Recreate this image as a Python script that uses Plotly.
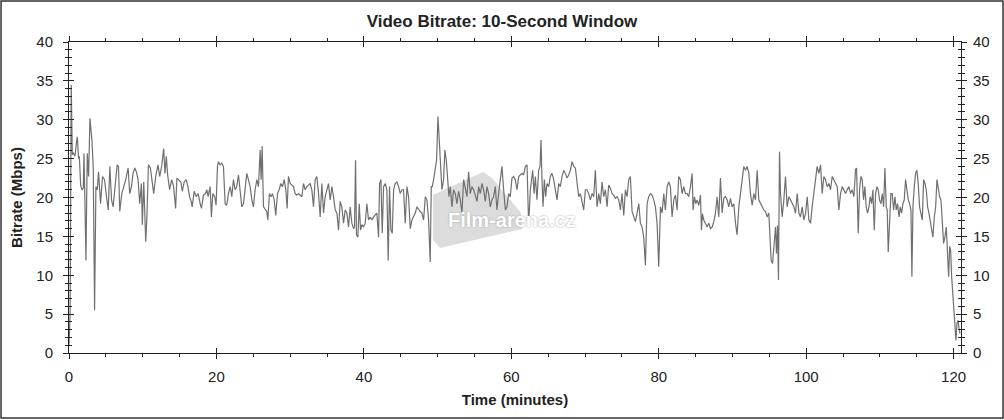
import plotly.graph_objects as go

# ---- data: time (minutes) / bitrate (Mbps), in six parts ----
minutes_1 = [0.0, 0.15, 0.3, 0.45, 0.59, 0.81, 1.0, 1.13, 1.3, 1.4,
             1.58, 1.75, 1.94, 2.03, 2.15, 2.3, 2.4, 2.48, 2.66, 2.84,
             2.95, 3.11, 3.29, 3.47, 3.65, 3.83, 4.01, 4.28, 4.55, 4.82,
             5.09, 5.32, 5.54, 5.77, 5.99, 6.22, 6.53, 6.71, 6.89, 7.16,
             7.43, 7.7, 8.02, 8.24, 8.47, 8.69, 8.92, 9.14, 9.37, 9.59,
             9.82, 9.95, 10.14, 10.32, 10.41, 10.59, 10.77, 11.04, 11.22, 11.49,
             11.76, 12.07, 12.3, 12.57, 12.84, 13.02, 13.2, 13.38, 13.65, 13.92,
             14.19, 14.46, 14.64, 14.91, 15.18, 15.36, 15.63, 15.9, 16.13, 16.35,
             16.58, 16.71, 16.98, 17.25, 17.52, 17.79, 17.97, 18.24, 18.51, 18.69,
             18.87, 19.14, 19.32, 19.5, 19.77, 19.95, 20.14]
mbps_1 = [1.0, 5.0, 34.5, 25.5, 25.7, 25.3, 27.0, 27.8, 25.0, 25.3,
          21.6, 21.0, 21.2, 25.7, 20.0, 11.9, 20.0, 25.7, 22.7, 30.2,
          29.0, 27.4, 23.8, 5.5, 21.4, 21.0, 23.3, 19.2, 22.7, 22.3,
          20.1, 18.4, 24.0, 19.7, 18.8, 21.0, 24.2, 24.0, 18.2, 20.5,
          21.4, 22.3, 23.8, 20.5, 21.4, 23.1, 23.8, 23.3, 22.3, 19.2,
          21.8, 16.5, 22.0, 16.2, 14.3, 18.0, 24.2, 23.8, 22.3, 20.5,
          22.7, 24.2, 22.7, 24.0, 26.3, 23.1, 25.3, 22.9, 21.0, 22.3,
          21.4, 18.6, 22.5, 22.3, 22.0, 20.8, 22.0, 22.3, 21.4, 20.1,
          19.5, 18.8, 20.8, 20.1, 20.5, 19.2, 18.6, 20.3, 20.5, 21.0,
          20.1, 21.4, 17.5, 20.5, 20.1, 19.0, 24.0]

minutes_2 = [20.27, 20.5, 20.72, 20.95, 21.18, 21.4, 21.63, 21.86, 22.08, 22.31,
             22.53, 22.76, 22.99, 23.21, 23.44, 23.67, 23.89, 24.12, 24.34, 24.57,
             24.8, 25.02, 25.25, 25.48, 25.7, 25.93, 26.06, 26.2, 26.38, 26.61,
             26.83, 26.97, 27.19, 27.42, 27.6, 27.83, 28.05, 28.28, 28.51, 28.73,
             28.96, 29.19, 29.41, 29.59, 29.77, 30.0, 30.23, 30.45, 30.68, 30.9,
             31.13, 31.36, 31.58, 31.81, 32.04, 32.26, 32.49, 32.71, 32.94, 33.17,
             33.39, 33.62, 33.85, 34.07, 34.3, 34.53, 34.75, 34.98, 35.2, 35.43,
             35.66, 35.88, 36.11, 36.34, 36.56, 36.79, 37.01, 37.24, 37.47, 37.69,
             37.92, 38.14, 38.37, 38.6, 38.73, 38.87, 39.0, 39.19, 39.37, 39.55,
             39.73, 39.95, 40.18, 40.41, 40.63, 40.86, 41.09, 41.31, 41.54]
mbps_2 = [24.6, 24.2, 24.4, 24.0, 19.2, 19.0, 20.5, 21.4, 20.1, 22.3,
          21.0, 21.4, 22.9, 20.5, 18.8, 19.2, 21.0, 23.1, 22.3, 21.4,
          19.7, 18.8, 21.0, 22.3, 21.4, 26.1, 22.3, 26.6, 18.8, 18.4,
          18.2, 17.1, 20.5, 20.1, 20.5, 19.7, 17.7, 20.5, 21.0, 21.8,
          21.4, 22.3, 21.0, 18.6, 22.7, 21.8, 21.6, 21.4, 20.5, 20.3,
          20.5, 20.3, 20.1, 21.8, 21.0, 21.4, 21.6, 21.8, 21.0, 18.8,
          22.3, 22.7, 20.5, 17.5, 21.8, 18.0, 20.1, 21.0, 21.8, 19.7,
          21.4, 20.1, 18.4, 18.0, 15.8, 19.5, 18.8, 16.7, 18.4, 18.0,
          16.2, 18.8, 16.7, 16.0, 16.2, 24.8, 15.2, 14.9, 19.2, 15.8,
          16.5, 16.2, 16.7, 19.2, 17.1, 17.5, 17.1, 17.5, 17.7]

minutes_3 = [41.76, 41.99, 42.13, 42.31, 42.49, 42.67, 42.9, 43.12, 43.3, 43.48,
             43.67, 43.85, 44.03, 44.25, 44.48, 44.71, 44.93, 45.16, 45.38, 45.61,
             45.84, 46.06, 46.29, 46.52, 46.74, 46.97, 47.19, 47.42, 47.65, 47.87,
             48.1, 48.33, 48.55, 48.78, 49.0, 49.14, 49.28, 49.46, 49.64, 49.86,
             50.05, 50.23, 50.41, 50.59, 50.81, 50.99, 51.18, 51.36, 51.54, 51.72,
             51.95, 52.17, 52.4, 52.62, 52.85, 53.08, 53.3, 53.53, 53.76, 53.98,
             54.21, 54.43, 54.66, 54.89, 55.11, 55.34, 55.57, 55.79, 56.02, 56.24,
             56.47, 56.7, 56.92, 57.15, 57.38, 57.6, 57.83, 58.05, 58.28, 58.51,
             58.73, 58.96, 59.19, 59.41, 59.64, 59.86, 60.09, 60.32, 60.54, 60.77,
             61.0, 61.22, 61.45, 61.67, 61.9, 62.13, 62.35]
mbps_3 = [18.0, 14.9, 21.8, 22.3, 15.4, 21.4, 21.8, 21.0, 11.9, 21.4,
          15.8, 15.4, 21.0, 21.8, 22.0, 21.4, 20.5, 21.0, 21.0, 16.7,
          21.4, 20.1, 16.0, 17.1, 17.5, 18.0, 18.8, 18.4, 18.2, 18.0,
          17.1, 20.1, 19.7, 17.1, 11.7, 21.4, 21.4, 22.3, 23.5, 24.8,
          30.4, 26.6, 24.0, 21.0, 22.3, 26.1, 24.8, 21.8, 20.1, 21.4,
          18.8, 21.0, 20.5, 19.2, 20.8, 19.7, 18.0, 22.3, 21.0, 20.1,
          23.3, 20.5, 21.4, 21.0, 20.3, 19.5, 21.4, 20.5, 21.8, 21.0,
          19.5, 21.4, 20.5, 18.8, 19.7, 20.1, 21.4, 18.4, 20.5, 22.7,
          24.0, 21.0, 18.4, 18.8, 20.5, 20.1, 22.5, 22.7, 22.3, 21.0,
          22.7, 22.9, 23.1, 22.9, 24.0, 24.2, 16.5]

minutes_4 = [62.58, 62.72, 62.9, 63.08, 63.26, 63.48, 63.71, 63.89, 64.03, 64.16,
             64.3, 64.48, 64.66, 64.84, 65.07, 65.29, 65.52, 65.75, 65.97, 66.2,
             66.43, 66.65, 66.88, 67.1, 67.33, 67.56, 67.78, 68.01, 68.24, 68.46,
             68.69, 68.91, 69.14, 69.37, 69.59, 69.82, 70.05, 70.27, 70.5, 70.72,
             70.95, 71.18, 71.4, 71.63, 71.86, 72.08, 72.31, 72.53, 72.76, 72.99,
             73.21, 73.44, 73.67, 73.89, 74.12, 74.34, 74.57, 74.8, 75.02, 75.25,
             75.48, 75.7, 75.93, 76.15, 76.38, 76.61, 76.83, 77.06, 77.29, 77.51,
             77.74, 77.96, 78.19, 78.42, 78.64, 78.87, 79.1, 79.32, 79.55, 79.77,
             80.0, 80.23, 80.45, 80.68, 80.9, 81.13, 81.36, 81.58, 81.81, 82.04,
             82.26, 82.49, 82.71, 82.94, 83.17, 83.39, 83.62]
mbps_4 = [21.0, 22.3, 23.5, 20.5, 22.7, 19.7, 23.5, 24.0, 27.4, 22.3,
          18.8, 22.3, 20.1, 21.8, 21.4, 22.7, 23.1, 22.3, 21.0, 19.7,
          21.8, 21.4, 22.7, 23.5, 23.1, 22.5, 22.9, 23.5, 24.6, 24.0,
          23.8, 21.8, 20.1, 20.5, 19.2, 18.4, 21.0, 21.0, 20.5, 19.7,
          20.5, 20.1, 23.5, 18.8, 20.5, 19.2, 22.0, 20.1, 21.0, 18.8,
          21.6, 21.2, 20.5, 20.3, 19.9, 20.1, 19.7, 18.4, 20.5, 17.7,
          21.0, 20.1, 22.3, 22.7, 18.2, 17.5, 16.9, 18.0, 19.2, 16.7,
          16.2, 14.9, 11.3, 19.2, 20.1, 20.5, 20.3, 19.7, 18.8, 16.7,
          11.1, 18.8, 18.0, 20.5, 18.4, 21.4, 22.0, 21.4, 17.5, 19.7,
          20.3, 18.4, 22.7, 22.3, 20.5, 21.4, 20.5]

minutes_5 = [83.85, 84.07, 84.3, 84.53, 84.66, 84.84, 85.02, 85.2, 85.43, 85.66,
             85.79, 85.93, 86.11, 86.33, 86.56, 86.79, 87.01, 87.24, 87.47, 87.69,
             87.92, 88.14, 88.37, 88.6, 88.82, 89.05, 89.28, 89.5, 89.73, 89.95,
             90.18, 90.41, 90.63, 90.86, 91.09, 91.31, 91.54, 91.76, 91.99, 92.22,
             92.44, 92.67, 92.9, 93.12, 93.35, 93.57, 93.8, 94.03, 94.25, 94.48,
             94.71, 94.93, 95.07, 95.25, 95.43, 95.61, 95.84, 95.97, 96.11, 96.24,
             96.38, 96.52, 96.74, 96.97, 97.19, 97.42, 97.65, 97.87, 98.1, 98.33,
             98.55, 98.78, 99.01, 99.23, 99.46, 99.68, 99.91, 100.14, 100.36, 100.59,
             100.81, 101.04, 101.27, 101.49, 101.72, 101.95, 102.17, 102.4, 102.62, 102.85,
             103.08, 103.3, 103.53, 103.76, 103.98, 104.21, 104.43, 104.66]
mbps_5 = [20.5, 20.1, 21.4, 23.1, 18.4, 20.1, 19.2, 19.7, 19.0, 20.3,
          15.8, 17.9, 17.1, 16.7, 16.2, 16.7, 16.0, 16.2, 16.9, 18.0,
          20.1, 17.5, 22.5, 18.0, 19.9, 20.1, 19.7, 18.8, 19.9, 18.8,
          19.2, 16.7, 15.2, 18.8, 20.5, 21.8, 24.0, 23.5, 24.0, 23.1,
          20.5, 19.0, 20.5, 19.7, 23.5, 19.7, 19.2, 18.8, 18.4, 18.2,
          17.5, 18.0, 14.5, 11.9, 11.5, 13.2, 16.2, 12.8, 16.4, 9.4,
          25.9, 20.5, 17.5, 19.7, 22.7, 18.8, 20.1, 19.7, 19.2, 18.8,
          18.0, 20.5, 18.0, 17.5, 18.8, 17.1, 18.0, 20.1, 17.1, 16.7,
          18.8, 20.5, 22.3, 24.0, 23.1, 24.2, 20.5, 22.7, 22.3, 21.4,
          21.8, 21.0, 22.7, 22.3, 21.8, 21.4, 18.4, 20.5]

minutes_6 = [104.89, 105.11, 105.34, 105.57, 105.79, 106.02, 106.24, 106.47, 106.7, 106.83,
             106.97, 107.06, 107.24, 107.42, 107.6, 107.78, 107.96, 108.14, 108.33, 108.51,
             108.69, 108.87, 109.05, 109.23, 109.41, 109.59, 109.77, 109.95, 110.14, 110.32,
             110.5, 110.68, 110.86, 110.99, 111.13, 111.31, 111.49, 111.67, 111.86, 112.04,
             112.22, 112.4, 112.58, 112.76, 112.94, 113.12, 113.3, 113.48, 113.67, 113.85,
             114.03, 114.21, 114.34, 114.48, 114.66, 114.84, 115.02, 115.2, 115.38, 115.57,
             115.75, 115.93, 116.11, 116.29, 116.47, 116.65, 116.83, 117.01, 117.19, 117.38,
             117.56, 117.74, 117.92, 118.1, 118.28, 118.46, 118.64, 118.82, 119.0, 119.19,
             119.32, 119.46, 119.59, 119.73, 119.91, 120.05, 120.18, 120.32, 120.45, 120.59,
             120.72, 120.86]
mbps_6 = [21.4, 21.0, 20.5, 21.0, 21.4, 20.5, 21.0, 20.1, 23.6, 23.8,
          19.2, 15.4, 21.0, 22.7, 22.3, 19.7, 21.4, 18.8, 18.0, 18.8,
          20.1, 19.2, 21.0, 15.8, 20.5, 21.4, 21.0, 19.7, 19.2, 20.5,
          18.8, 23.8, 18.8, 18.4, 13.0, 17.1, 20.5, 20.5, 18.4, 20.1,
          18.4, 19.2, 17.5, 18.8, 18.0, 19.2, 19.7, 22.3, 21.0, 19.7,
          19.2, 18.4, 9.8, 18.8, 21.4, 23.1, 23.5, 21.8, 18.8, 18.0,
          17.1, 22.3, 21.8, 21.0, 18.8, 18.0, 17.1, 16.2, 14.9, 17.5,
          18.8, 22.3, 21.0, 20.1, 19.7, 16.7, 14.1, 14.9, 16.2, 12.4,
          9.8, 13.7, 13.2, 9.8, 7.6, 5.1, 3.3, 1.6, 3.8, 4.2,
          3.3, 2.5]

x_range = [0, 121]
y_range = [0, 40]
x_ticks = [0, 20, 40, 60, 80, 100, 120]
y_ticks = [0, 5, 10, 15, 20, 25, 30, 35, 40]

TITLE = "Video Bitrate: 10-Second Window"
X_TITLE = "Time (minutes)"
Y_TITLE = "Bitrate (Mbps)"
WATERMARK = "Film-arena.cz"

# ---- assemble ----
minutes, mbps = [], []
for t_part, v_part in [(minutes_1, mbps_1), (minutes_2, mbps_2), (minutes_3, mbps_3),
                       (minutes_4, mbps_4), (minutes_5, mbps_5), (minutes_6, mbps_6)]:
    n = min(len(t_part), len(v_part))
    minutes.extend(t_part[:n])
    mbps.extend(v_part[:n])

FONT = "Liberation Sans, Arial, sans-serif"
INK = "#222222"

fig = go.Figure()
fig.add_trace(go.Scatter(x=minutes, y=mbps, mode="lines",
                         line=dict(color="#707070", width=1.2),
                         showlegend=False, hoverinfo="x+y"))
# helper traces so the overlay axes are drawn
fig.add_trace(go.Scatter(x=[None], y=[None], xaxis="x2", yaxis="y3",
                         showlegend=False, hoverinfo="skip"))
fig.add_trace(go.Scatter(x=[None], y=[None], xaxis="x", yaxis="y2",
                         showlegend=False, hoverinfo="skip"))

common = dict(showgrid=False, zeroline=False, linecolor=INK, tickcolor=INK,
              automargin=False,
              tickfont=dict(family=FONT, size=15, color=INK))

fig.update_layout(
    width=1004, height=420,
    margin=dict(l=69, r=43, t=42, b=67, autoexpand=False),
    paper_bgcolor="white", plot_bgcolor="white",
    font=dict(family=FONT, color=INK),
    title=dict(text="<b>" + TITLE + "</b>", x=0.5, xanchor="center",
               y=0.951, yanchor="middle",
               font=dict(family=FONT, size=17, color=INK)),
    xaxis=dict(range=x_range, tickvals=x_ticks, ticks="outside", ticklen=5,
               showline=True, linewidth=1, mirror="ticks",
               minor=dict(dtick=5, tick0=0, ticks="outside", ticklen=3, tickcolor=INK),
               ticklabelstandoff=5,
               title=dict(text="<b>" + X_TITLE + "</b>", standoff=10,
                          font=dict(family=FONT, size=15, color=INK)),
               **common),
    xaxis2=dict(range=x_range, overlaying="x", anchor="y", tickvals=x_ticks,
                ticks="inside", ticklen=5, showline=False, mirror="ticks",
                automargin=False,
                showticklabels=False, showgrid=False, zeroline=False, tickcolor=INK),
    yaxis=dict(range=y_range, tickvals=y_ticks, ticks="outside", ticklen=5,
               showline=True, linewidth=1, mirror="ticks",
               minor=dict(dtick=1, tick0=0, ticks="outside", ticklen=3, tickcolor=INK),
               ticklabelstandoff=7,
               title=dict(text="<b>" + Y_TITLE + "</b>", standoff=10,
                          font=dict(family=FONT, size=15, color=INK)),
               **common),
    yaxis3=dict(range=y_range, overlaying="y", anchor="x2", tickvals=y_ticks,
                ticks="inside", ticklen=5, showline=False, mirror="ticks",
                automargin=False,
                minor=dict(dtick=1, tick0=0, ticks="inside", ticklen=3, tickcolor=INK),
                showticklabels=False, showgrid=False, zeroline=False, tickcolor=INK),
    yaxis2=dict(range=y_range, overlaying="y", side="right", anchor="x",
                tickvals=y_ticks, ticks="outside", ticklen=5,
                tickcolor="rgba(0,0,0,0)", showline=False,
                ticklabelstandoff=3, automargin=False,
                showgrid=False, zeroline=False,
                tickfont=dict(family=FONT, size=15, color=INK)),
)

# watermark logo (light grey clapperboard outline) and text
fig.add_shape(type="path", xref="paper", yref="paper", layer="below",
              path="M 0.4081,0.508 L 0.4641,0.582 L 0.4742,0.5627 L 0.5067,0.4502 "
                   "L 0.5078,0.3987 L 0.4159,0.3376 L 0.4081,0.3633 Z",
              fillcolor="#dcdcdc", line=dict(width=0))
fig.add_annotation(text="<b>" + WATERMARK + "</b>", xref="paper", yref="paper",
                   x=0.4966, y=0.4277, showarrow=False,
                   font=dict(family=FONT, size=20, color="white",
                             shadow="0px 0px 2px #9a9a9a"))

# outer frame of the picture
fig.add_shape(type="rect", xref="paper", yref="paper",
              x0=-0.0762, x1=1.0471, y0=-0.209, y1=1.1318,
              line=dict(color="#333333", width=1.5), fillcolor="rgba(0,0,0,0)")

# the page's default 8px body margin would offset the figure; remove it
fig.write_html("out.html",
               config={"displayModeBar": False},
               post_script="document.body.style.margin='0';"
                           "document.body.style.overflow='hidden';")
